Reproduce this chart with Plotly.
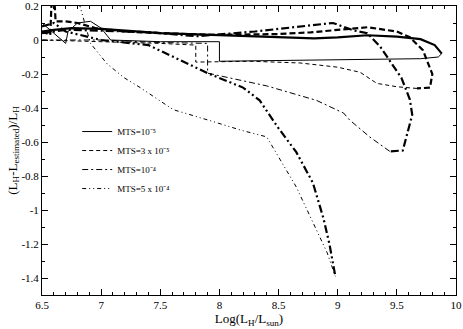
import plotly.graph_objects as go

# MTS = 1e-5 (solid)
s1_thick_x = [6.5, 6.6, 6.75, 7.0, 7.5, 8.0, 8.5, 8.8, 9.0, 9.25, 9.5, 9.7, 9.82, 9.88]
s1_thick_y = [0.05, 0.06, 0.07, 0.065, 0.04, 0.03, 0.02, 0.01, 0.015, 0.028, 0.02, 0.005, -0.03, -0.08]
s1_thin_x = [9.88, 9.85, 9.7, 9.0, 8.5, 8.0, 8.0, 7.5, 7.08, 7.0, 6.91, 6.8, 6.72, 6.7, 6.5]
s1_thin_y = [-0.08, -0.1, -0.11, -0.115, -0.12, -0.125, -0.01, -0.01, 0.0, 0.07, 0.11, 0.1, 0.05, -0.02, 0.1]

# MTS = 3e-5 (dashed)
s2_thick_x = [6.5, 6.57, 6.585, 6.6, 6.615, 6.7, 6.8, 6.95, 7.2, 7.5, 8.0, 8.5, 8.77, 9.0, 9.25,
              9.5, 9.61, 9.72, 9.8, 9.78, 9.67]
s2_thick_y = [0.05, 0.03, 0.3, 0.3, 0.11, 0.11, 0.1, 0.07, 0.05, 0.04, 0.03, 0.035, 0.045, 0.06, 0.075,
              0.05, 0.016, -0.06, -0.2, -0.28, -0.285]
s2_thin_x = [9.67, 9.5, 9.33, 9.19, 9.0, 8.68, 8.26, 7.9, 7.8, 7.8, 7.5, 7.0, 6.5]
s2_thin_y = [-0.285, -0.275, -0.255, -0.19, -0.16, -0.135, -0.125, -0.13, -0.13, -0.03, -0.02, -0.01, 0.0]

# MTS = 1e-4 (dash-dot)
s3_thick_x = [6.5, 6.7, 7.0, 7.42, 7.81, 8.3, 8.77, 8.96, 9.13, 9.25, 9.36, 9.44, 9.54, 9.61,
              9.63, 9.55, 9.44]
s3_thick_y = [0.04, 0.06, 0.055, 0.045, 0.022, 0.05, 0.086, 0.1, 0.057, 0.04, -0.04, -0.12, -0.225, -0.35,
              -0.44, -0.65, -0.655]
s3_thin_x = [9.44, 9.27, 9.1, 9.05, 8.82, 8.4, 7.9, 7.9, 7.5, 7.0, 6.5]
s3_thin_y = [-0.655, -0.57, -0.47, -0.43, -0.355, -0.27, -0.195, -0.02, -0.015, 0.0, 0.0]

# MTS = 5e-4 (dash-dot-dot)
s4_thick_x = [6.5, 6.6, 6.7, 7.0, 7.4, 7.9, 8.2, 8.34, 8.49, 8.65, 8.79, 8.88, 8.93, 8.98]
s4_thick_y = [0.08, 0.1, 0.05, 0.0, -0.03, -0.195, -0.28, -0.355, -0.51, -0.66, -0.84, -1.05, -1.2, -1.39]
s4_thin_x = [6.78, 6.91, 7.05, 7.19, 7.33, 7.61, 7.9, 8.18, 8.4, 8.65, 8.91, 8.98]
s4_thin_y = [0.3, -0.02, -0.14, -0.22, -0.28, -0.41, -0.47, -0.53, -0.57, -0.865, -1.25, -1.39]

names = ["MTS=10⁻⁵", "MTS=3 x 10⁻⁵", "MTS=10⁻⁴", "MTS=5 x 10⁻⁴"]
dashes = ["solid", "6px,3px", "8px,3px,2px,3px", "8px,3px,2px,3px,2px,3px"]
thin_dashes = ["solid", "4px,3px", "6px,3px,2px,3px", "4px,3px,1px,3px,1px,3px"]

thick = [(s1_thick_x, s1_thick_y), (s2_thick_x, s2_thick_y), (s3_thick_x, s3_thick_y), (s4_thick_x, s4_thick_y)]
thin = [(s1_thin_x, s1_thin_y), (s2_thin_x, s2_thin_y), (s3_thin_x, s3_thin_y), (s4_thin_x, s4_thin_y)]

fig = go.Figure()

for i in range(4):
    fig.add_trace(go.Scatter(x=thin[i][0], y=thin[i][1], mode="lines", name=names[i],
                             line=dict(color="black", width=1, dash=thin_dashes[i])))
for i in range(4):
    fig.add_trace(go.Scatter(x=thick[i][0], y=thick[i][1], mode="lines", showlegend=False,
                             line=dict(color="black", width=2.2, dash=dashes[i])))

axis_common = dict(showline=True, linecolor="black", linewidth=1, mirror="ticks", automargin=False,
                   ticks="inside", ticklen=6, tickcolor="black", showgrid=False, zeroline=False,
                   ticklabeloverflow="allow",
                   tickfont=dict(family="Liberation Serif", size=11, color="black"))

fig.update_xaxes(range=[6.5, 10], tickvals=[6.5, 7, 7.5, 8, 8.5, 9, 9.5, 10],
                 ticktext=["6.5", "7", "7.5", "8", "8.5", "9", "9.5", "10"],
                 minor=dict(ticks="inside", ticklen=3, dtick=0.1, tick0=6.5, tickcolor="black", showgrid=False),
                 title=dict(text="Log(L<sub>H</sub>/L<sub>sun</sub>)", standoff=0,
                            font=dict(family="Liberation Serif", size=13, color="black")),
                 **axis_common)

yt = [0.2, 0, -0.2, -0.4, -0.6, -0.8, -1.0, -1.2, -1.4]
fig.update_yaxes(range=[-1.5, 0.2], tickvals=yt, ticktext=["0.2", "0", "-0.2", "-0.4", "-0.6", "-0.8", "-1", "-1.2", "-1.4"],
                 minor=dict(ticks="inside", ticklen=3, dtick=0.1, tick0=0, tickcolor="black", showgrid=False),
                 title=dict(text="(L<sub>H</sub>-L<sub>estimated</sub>)/L<sub>H</sub>", standoff=0,
                            font=dict(family="Liberation Serif", size=13, color="black")),
                 **axis_common)

fig.update_layout(width=463, height=329, margin=dict(l=42, r=7, t=6, b=34),
                  paper_bgcolor="white", plot_bgcolor="white",
                  legend=dict(x=0.085, y=0.467, xanchor="left", yanchor="middle", bgcolor="rgba(0,0,0,0)",
                              font=dict(family="Liberation Serif", size=9, color="black"),
                              tracegroupgap=0, itemwidth=30))

# drop the default page margin so the figure sits at the window's corner
fig.write_html("out.html", config={"displayModeBar": False},
               post_script="document.body.style.margin='0';")
